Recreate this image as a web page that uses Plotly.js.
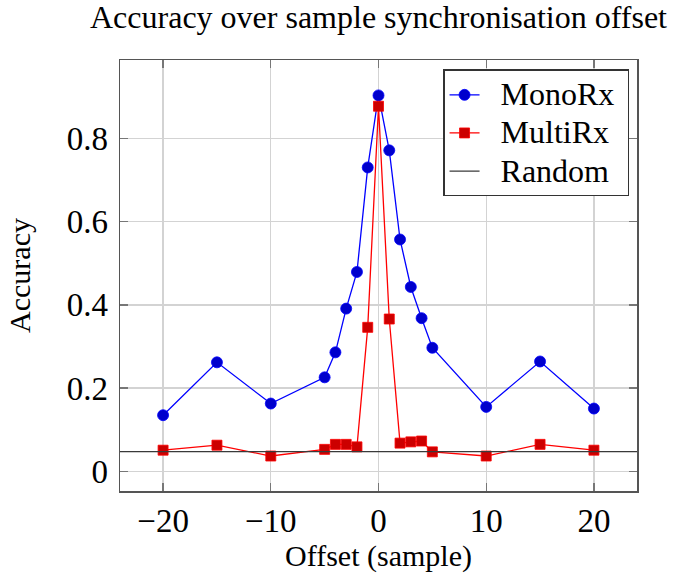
<!DOCTYPE html>
<html>
<head>
<meta charset="utf-8">
<script src="https://cdn.plot.ly/plotly-3.0.1.min.js"></script>
<style>html,body{margin:0;padding:0;background:#fff;}#chart{width:674px;height:573px;}</style>
</head>
<body>
<div id="chart"></div>
<script>
const offsets = [-20, -15, -10, -5, -4, -3, -2, -1, 0, 1, 2, 3, 4, 5, 10, 15, 20];
const monoRx  = [0.135, 0.262, 0.163, 0.226, 0.286, 0.391, 0.479, 0.730, 0.903, 0.771, 0.557, 0.443, 0.368, 0.297, 0.155, 0.264, 0.151];
const multiRx = [0.051, 0.063, 0.037, 0.053, 0.065, 0.065, 0.059, 0.346, 0.877, 0.366, 0.068, 0.071, 0.073, 0.047, 0.037, 0.065, 0.051];
const randomLevel = 1 / 21;
const seriesNames = ['MonoRx', 'MultiRx', 'Random'];
const xRange = [-24, 24];
const yRange = [-0.047, 0.988];
const xTicks = [-20, -10, 0, 10, 20];
const yTicks = [0, 0.2, 0.4, 0.6, 0.8];

const fam = 'Liberation Serif, Times New Roman, serif';
const tickFont = {family: fam, size: 33, color: '#000'};
const titleFont = {family: fam, size: 32, color: '#000'};
const axisTitleFont = {family: fam, size: 30, color: '#000'};
const legendFont = {family: fam, size: 27, color: '#000'};

const legendName = n => '<span style="font-size:32px">\u00a0\u00a0' + n + '\u00a0</span>';

const traces = [
  {x: offsets, y: monoRx, name: legendName(seriesNames[0]), mode: 'lines+markers', type: 'scatter',
   line: {color: '#0000ff', width: 1.3},
   marker: {symbol: 'circle', size: 11, color: '#0000cc', line: {color: '#0000ff', width: 0.8}}},
  {x: offsets, y: multiRx, name: legendName(seriesNames[1]), mode: 'lines+markers', type: 'scatter',
   line: {color: '#ff0000', width: 1.3},
   marker: {symbol: 'square', size: 10, color: '#cc0000', line: {color: '#ff0000', width: 0.8}}},
  {x: xRange, y: [randomLevel, randomLevel], name: legendName(seriesNames[2]), mode: 'lines', type: 'scatter',
   line: {color: '#3a3a3a', width: 1.3}}
];

const axisCommon = {
  showline: true, mirror: 'ticks', linecolor: '#555', linewidth: 1.5,
  ticks: 'inside', ticklen: 8, tickwidth: 1.3, tickcolor: '#777',
  showgrid: true, gridcolor: '#d3d3d3', gridwidth: 1.3,
  zeroline: false, tickfont: tickFont
};

const layout = {
  width: 674, height: 573,
  margin: {l: 120, r: 37, t: 60, b: 82},
  paper_bgcolor: '#fff', plot_bgcolor: '#fff',
  font: tickFont,
  title: {text: 'Accuracy over sample synchronisation offset', font: titleFont,
          x: 0.5, xref: 'paper', xanchor: 'center', y: 1 - 17/573, yref: 'container', yanchor: 'middle'},
  xaxis: Object.assign({}, axisCommon, {
    range: xRange, tickvals: xTicks, ticktext: xTicks.map(v => v < 0 ? '\u2212' + Math.abs(v) : String(v)),
    ticklabelstandoff: 0,
    title: {text: 'Offset (sample)', font: axisTitleFont, standoff: 0}
  }),
  yaxis: Object.assign({}, axisCommon, {
    range: yRange, tickvals: yTicks, ticktext: yTicks.map(v => v === 0 ? '0' : v.toFixed(1)),
    ticklabelstandoff: 4,
    title: {text: 'Accuracy', font: axisTitleFont, standoff: 27}
  }),
  legend: {
    x: 0.985, y: 0.978, xanchor: 'right', yanchor: 'top',
    bgcolor: '#fff', bordercolor: '#333', borderwidth: 1.3,
    font: legendFont, tracegroupgap: 0, itemwidth: 30
  },
  showlegend: true
};

Plotly.newPlot('chart', traces, layout, {displayModeBar: false, staticPlot: true});
</script>
</body>
</html>
